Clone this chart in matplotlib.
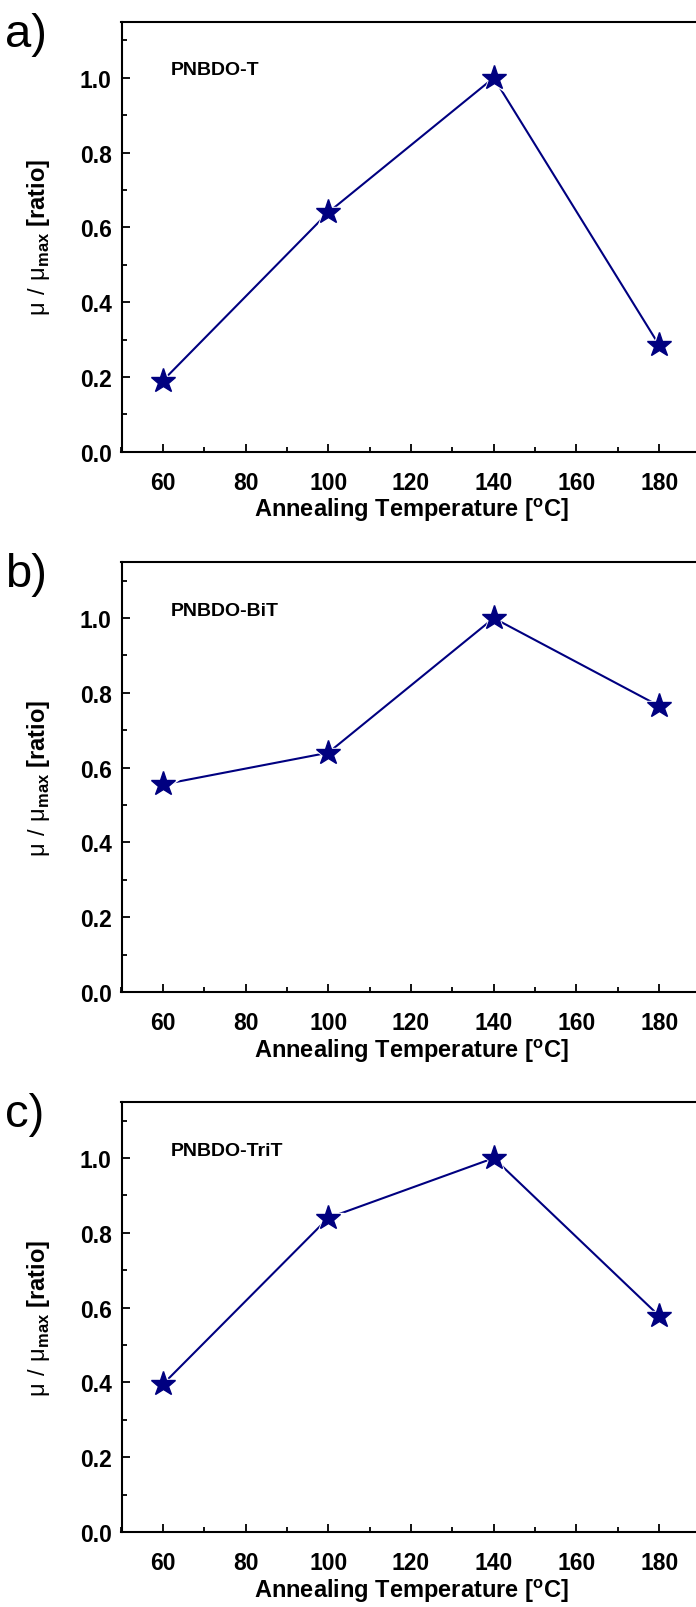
import numpy as np
import matplotlib.pyplot as plt
from matplotlib.ticker import MultipleLocator

plt.rcParams['font.family'] = ['Liberation Sans', 'DejaVu Sans']
plt.rcParams['mathtext.fontset'] = 'custom'
plt.rcParams['mathtext.rm'] = 'Liberation Sans'
plt.rcParams['mathtext.bf'] = 'Liberation Sans:bold'

temps = [60, 100, 140, 180]
pnbdo_t = [0.19, 0.64, 1.0, 0.285]
pnbdo_bit = [0.555, 0.64, 1.0, 0.765]
pnbdo_trit = [0.395, 0.84, 1.0, 0.578]

names = ["PNBDO-T", "PNBDO-BiT", "PNBDO-TriT"]
letters = ["a)", "b)", "c)"]
series = [pnbdo_t, pnbdo_bit, pnbdo_trit]

col = '#000080'
W, H = 696, 1608
fig = plt.figure(figsize=(W/100, H/100), dpi=100)

tops = [22.7, 563, 1103]
for i in range(3):
    top = tops[i]
    ax = fig.add_axes([121.5/W, (H-top-430)/H, 579/W, 430/H])
    y = series[i]
    ax.plot(temps, y, color=col, lw=1.5, zorder=2)
    ax.plot(temps, y, ls='none', marker='*', ms=24, mfc='white', mec='white', zorder=3)
    ax.plot(temps, y, ls='none', marker='*', ms=18.5, mfc=col, mec=col, zorder=4)
    ax.set_xlim(50, 190)
    ax.set_ylim(0, 1.15)
    ax.xaxis.set_minor_locator(MultipleLocator(10))
    ax.yaxis.set_minor_locator(MultipleLocator(0.1))
    ax.set_yticks(np.arange(0, 1.01, 0.2))
    ax.set_xticks(np.arange(60, 181, 20))
    ax.yaxis.set_major_formatter(plt.FormatStrFormatter('%.1f'))
    ax.tick_params(which='both', direction='in', top=False, right=False, width=1.3)
    ax.tick_params(which='major', length=6, labelsize=16.5)
    ax.tick_params(axis='x', which='major', pad=14)
    ax.tick_params(axis='y', which='major', pad=7)
    ax.tick_params(which='minor', length=3.5)
    for lab in ax.get_xticklabels() + ax.get_yticklabels():
        lab.set_fontweight('bold')
    for s in ax.spines.values():
        s.set_linewidth(1.5)
    ax.set_xlabel(r"Annealing Temperature [$^{\mathbf{o}}$C]", fontsize=17, fontweight='bold', labelpad=1)
    ax.set_ylabel(r"$\mathrm{μ\ /\ μ}_{\mathbf{max}}$ [ratio]", fontsize=17, fontweight='bold', labelpad=20)
    ax.text(0.085, 0.888, names[i], transform=ax.transAxes, fontsize=14, fontweight='bold', va='center')
    fig.text(5/W, 1 - (top + 12)/H, letters[i], fontsize=34, va='center', ha='left')

fig.savefig('out.png', dpi=100)
